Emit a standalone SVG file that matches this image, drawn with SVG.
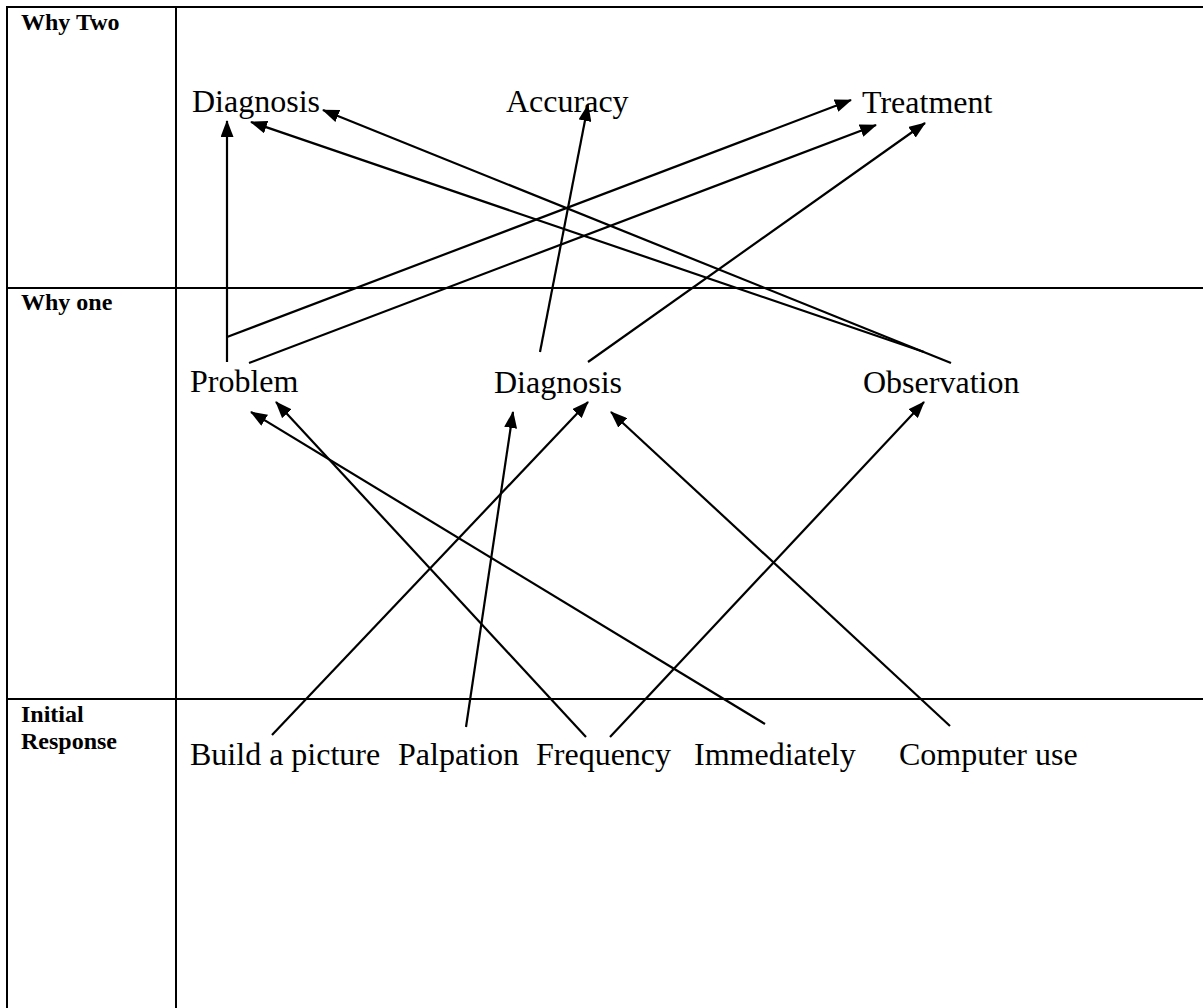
<svg xmlns="http://www.w3.org/2000/svg" width="1203" height="1008" viewBox="0 0 1203 1008">
<style>
.grid{stroke:#000;stroke-width:2;fill:none}
.hdr{font-family:"Liberation Serif","Times New Roman",serif;font-weight:bold;font-size:24px;fill:#000}
.lbl{font-family:"Liberation Serif","Times New Roman",serif;font-size:32px;fill:#000}
.conn line{stroke:#000;stroke-width:2.2;marker-end:url(#ah)}
</style>
<defs>
<marker id="ah" markerUnits="userSpaceOnUse" markerWidth="17" markerHeight="13" refX="16" refY="6.5" orient="auto">
<path d="M0,0 L17,6.5 L0,13 z" fill="#000"/>
</marker>
</defs>
<rect width="1203" height="1008" fill="#fff"/>
<g id="table" class="grid">
<line x1="7" y1="7" x2="1203" y2="7"/>
<line x1="7" y1="288" x2="1203" y2="288"/>
<line x1="7" y1="699" x2="1203" y2="699"/>
<line x1="7" y1="6" x2="7" y2="1008"/>
<line x1="176" y1="6" x2="176" y2="1008"/>
</g>
<g id="headers">
<text class="hdr" x="21" y="30">Why Two</text>
<text class="hdr" x="21" y="310">Why one</text>
<text class="hdr" x="21" y="722">Initial</text>
<text class="hdr" x="21" y="749">Response</text>
</g>
<g id="n-diagnosis2"><text class="lbl" x="192" y="112">Diagnosis</text></g>
<g id="n-accuracy"><text class="lbl" x="506" y="112">Accuracy</text></g>
<g id="n-treatment"><text class="lbl" x="862" y="113">Treatment</text></g>
<g id="n-problem"><text class="lbl" x="190" y="392">Problem</text></g>
<g id="n-diagnosis1"><text class="lbl" x="494" y="393">Diagnosis</text></g>
<g id="n-observation"><text class="lbl" x="863" y="393">Observation</text></g>
<g id="n-build"><text class="lbl" x="190" y="765">Build a picture</text></g>
<g id="n-palpation"><text class="lbl" x="398" y="765">Palpation</text></g>
<g id="n-frequency"><text class="lbl" x="536" y="765">Frequency</text></g>
<g id="n-immediately"><text class="lbl" x="694" y="765">Immediately</text></g>
<g id="n-computer"><text class="lbl" x="899" y="765">Computer use</text></g>
<g id="connectors" class="conn">
<line x1="227" y1="362" x2="227" y2="121"/>
<line x1="227" y1="337" x2="851" y2="100"/>
<line x1="249" y1="363" x2="876" y2="125"/>
<line x1="540" y1="352" x2="588" y2="105"/>
<line x1="588" y1="362" x2="925" y2="123"/>
<line x1="951" y1="363" x2="323" y2="110"/>
<line x1="924" y1="352" x2="251" y2="122"/>
<line x1="272" y1="735" x2="588" y2="402"/>
<line x1="466" y1="727" x2="513" y2="412"/>
<line x1="586" y1="737" x2="276" y2="402"/>
<line x1="610" y1="737" x2="924" y2="402"/>
<line x1="765" y1="724" x2="251" y2="412"/>
<line x1="950" y1="726" x2="611" y2="412"/>
</g>
</svg>
